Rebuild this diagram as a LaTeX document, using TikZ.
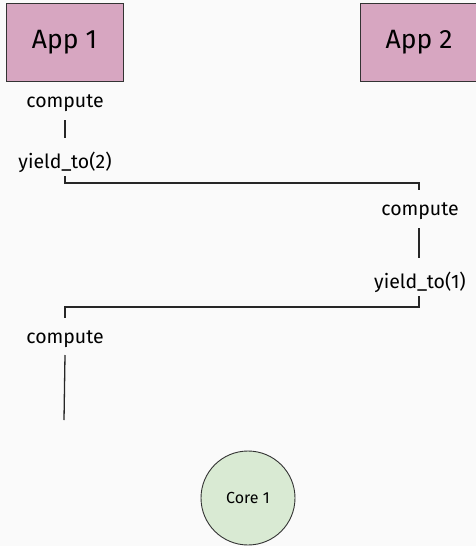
\documentclass[tikz,border=0pt]{standalone}
\usepackage{fontspec}
\setmainfont{Fira Sans}
\begin{document}
\begin{tikzpicture}[x=1pt,y=-1pt,
  app/.style={draw=black!80,fill=appc,line width=0.9pt,minimum width=117pt,minimum height=78pt,inner sep=0pt,font=\fontsize{26.5}{30}\selectfont},
  lbl/.style={inner sep=1pt,font=\fontsize{19.5}{22}\selectfont},
  wire/.style={line width=1.3pt,draw=black!85}]
\definecolor{appc}{HTML}{D7A6C1}
\definecolor{corec}{HTML}{D9EAD3}
\definecolor{bg}{HTML}{FAFAFA}
\fill[bg] (0,0) rectangle (476,546);
\useasboundingbox (0,0) rectangle (476,546);
\node[app] (app1) at (64.5,42) {App 1};
\node[app] (app2) at (419,42) {App 2};
\node[lbl] (c1) at (65,103) {compute};
\node[lbl] (y2) at (65,162) {yield\_to(2)};
\node[lbl] (c2) at (420,211) {compute};
\node[lbl] (y1) at (420,282) {yield\_to(1)};
\node[lbl] (c3) at (65,339) {compute};
\coordinate (e3) at (64,420);
\node[circle,draw=black!80,fill=corec,line width=0.9pt,minimum size=94pt,inner sep=0pt,font=\fontsize{16}{18}\selectfont] (core) at (248,498) {Core 1};
\draw[wire] (65,120) -- (65,138);
\draw[wire] (65,176) -- (65,183) -- (419,183) -- (419,190);
\draw[wire] (419,228) -- (419,258);
\draw[wire] (419,296) -- (419,307) -- (65,307) -- (65,318);
\draw[wire] (65,355) -- (e3);
\end{tikzpicture}
\end{document}
